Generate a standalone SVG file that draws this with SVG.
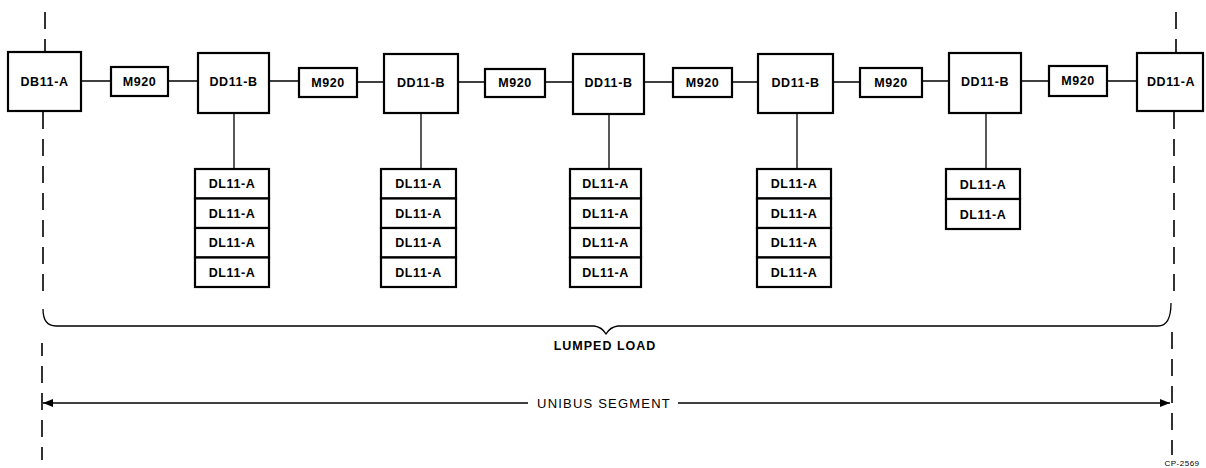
<svg xmlns="http://www.w3.org/2000/svg" width="1206" height="468" viewBox="0 0 1206 468">
<defs>
<style>
.box{fill:#fff;stroke:#000;stroke-width:2.2}
.t{font-family:"Liberation Sans",Arial,sans-serif;font-weight:bold;font-size:12.5px;letter-spacing:0.6px;text-anchor:middle;fill:#000}
.c{stroke:#000;stroke-width:1.3;fill:none}
.dash{stroke:#000;stroke-width:1.6;stroke-dasharray:17 10;fill:none}
.lbl{font-family:"Liberation Sans",Arial,sans-serif;font-weight:bold;font-size:12.5px;letter-spacing:1px;text-anchor:middle;fill:#000}
</style>
<marker id="ah" viewBox="0 0 10 8" refX="10" refY="4" markerWidth="10" markerHeight="8" markerUnits="userSpaceOnUse" orient="auto-start-reverse">
<path d="M0,0 L10,4 L0,8 Z" fill="#000"/>
</marker>
</defs>
<rect width="1206" height="468" fill="#fff"/>
<g id="boundaries">
<path class="dash" d="M45 12 L45 52 M43 112 L43 300"/>
<path class="dash" d="M42 343 L42 460" stroke-dashoffset="4"/>
<path class="dash" d="M1176 12 L1176 53 M1174 112 L1174 300"/>
<path class="dash" d="M1172 332 L1172 455"/>
</g>
<g id="connectors">
<path class="c" d="M81 81 H111 M168 81 H198 M269 81 H299 M357 82 H384 M458 82 H485 M545 82 H573 M644 82 H673 M732 82 H758 M833 82 H860 M922 81 H949 M1021 81 H1049 M1107 81 H1137"/>
<path class="c" d="M234 113 V169 M421 114 V169 M609 114 V169 M797 113 V169 M986 113 V169"/>
</g>
<g id="DB11-A-left"><rect class="box" x="8" y="52" width="73" height="59"/><text class="t" x="44.5" y="86">DB11-A</text></g>
<g id="M920-1"><rect class="box" x="111" y="67" width="57" height="29"/><text class="t" x="139.5" y="86">M920</text></g>
<g id="DD11-B-1"><rect class="box" x="198" y="53" width="71" height="60"/><text class="t" x="233.5" y="86">DD11-B</text></g>
<g id="M920-2"><rect class="box" x="299" y="68" width="58" height="29"/><text class="t" x="328" y="87">M920</text></g>
<g id="DD11-B-2"><rect class="box" x="384" y="54" width="74" height="59"/><text class="t" x="421" y="87">DD11-B</text></g>
<g id="M920-3"><rect class="box" x="485" y="69" width="60" height="28"/><text class="t" x="515" y="87">M920</text></g>
<g id="DD11-B-3"><rect class="box" x="573" y="54" width="71" height="60"/><text class="t" x="608.5" y="87">DD11-B</text></g>
<g id="M920-4"><rect class="box" x="673" y="68" width="59" height="29"/><text class="t" x="702.5" y="87">M920</text></g>
<g id="DD11-B-4"><rect class="box" x="758" y="54" width="75" height="59"/><text class="t" x="795.5" y="87">DD11-B</text></g>
<g id="M920-5"><rect class="box" x="860" y="68" width="62" height="29"/><text class="t" x="891" y="87">M920</text></g>
<g id="DD11-B-5"><rect class="box" x="949" y="53" width="72" height="60"/><text class="t" x="985" y="86">DD11-B</text></g>
<g id="M920-6"><rect class="box" x="1049" y="66" width="58" height="30"/><text class="t" x="1078" y="85">M920</text></g>
<g id="DD11-A-right"><rect class="box" x="1137" y="53" width="66" height="58"/><text class="t" x="1171" y="86">DD11-A</text></g>
<g id="DL-stack-1">
<rect class="box" x="195" y="169" width="74" height="29.5"/><text class="t" x="232" y="188">DL11-A</text>
<rect class="box" x="195" y="198.5" width="74" height="29.5"/><text class="t" x="232" y="217.5">DL11-A</text>
<rect class="box" x="195" y="228" width="74" height="29.5"/><text class="t" x="232" y="247">DL11-A</text>
<rect class="box" x="195" y="257.5" width="74" height="29.5"/><text class="t" x="232" y="276.5">DL11-A</text>
</g>
<g id="DL-stack-2">
<rect class="box" x="381" y="169" width="75" height="29.5"/><text class="t" x="418.5" y="188">DL11-A</text>
<rect class="box" x="381" y="198.5" width="75" height="29.5"/><text class="t" x="418.5" y="217.5">DL11-A</text>
<rect class="box" x="381" y="228" width="75" height="29.5"/><text class="t" x="418.5" y="247">DL11-A</text>
<rect class="box" x="381" y="257.5" width="75" height="29.5"/><text class="t" x="418.5" y="276.5">DL11-A</text>
</g>
<g id="DL-stack-3">
<rect class="box" x="570" y="169" width="71" height="29.5"/><text class="t" x="605.5" y="188">DL11-A</text>
<rect class="box" x="570" y="198.5" width="71" height="29.5"/><text class="t" x="605.5" y="217.5">DL11-A</text>
<rect class="box" x="570" y="228" width="71" height="29.5"/><text class="t" x="605.5" y="247">DL11-A</text>
<rect class="box" x="570" y="257.5" width="71" height="29.5"/><text class="t" x="605.5" y="276.5">DL11-A</text>
</g>
<g id="DL-stack-4">
<rect class="box" x="757" y="169" width="74" height="29.5"/><text class="t" x="794" y="188">DL11-A</text>
<rect class="box" x="757" y="198.5" width="74" height="29.5"/><text class="t" x="794" y="217.5">DL11-A</text>
<rect class="box" x="757" y="228" width="74" height="29.5"/><text class="t" x="794" y="247">DL11-A</text>
<rect class="box" x="757" y="257.5" width="74" height="29.5"/><text class="t" x="794" y="276.5">DL11-A</text>
</g>
<g id="DL-stack-5">
<rect class="box" x="946" y="169" width="74" height="30"/><text class="t" x="983" y="188.5">DL11-A</text>
<rect class="box" x="946" y="199" width="74" height="30"/><text class="t" x="983" y="218.5">DL11-A</text>
</g>
<g id="lumped-load">
<path class="c" d="M43 309 Q43 326 56 326 L594 326 Q602 327 606 334 Q610 327 618 326 L1158 326 Q1171 326 1171 303"/>
<text class="lbl" x="605" y="350">LUMPED LOAD</text>
</g>
<g id="unibus-segment">
<path class="c" d="M528 403 H43" marker-end="url(#ah)"/>
<path class="c" d="M678 403 H1170" marker-end="url(#ah)"/>
<text class="lbl" x="604" y="408" style="font-weight:normal;font-size:13px;letter-spacing:1.2px">UNIBUS SEGMENT</text>
</g>
<text x="1182" y="466" style="font-family:'Liberation Sans',Arial,sans-serif;font-size:8px;letter-spacing:0.5px;text-anchor:middle;fill:#000">CP-2569</text>
</svg>
